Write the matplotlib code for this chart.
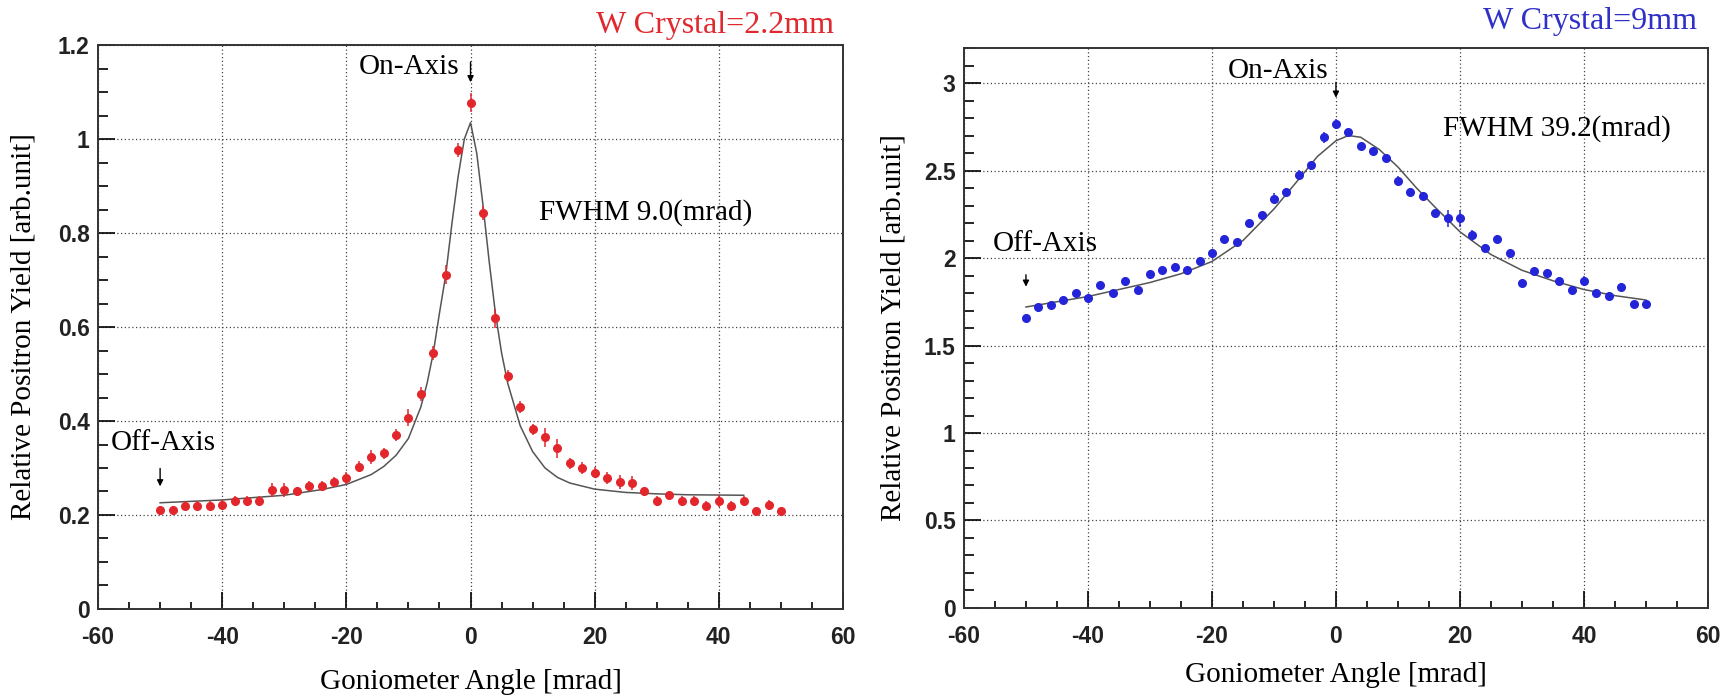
"""Relative positron yield vs goniometer angle for two W crystal thicknesses."""

import matplotlib.pyplot as plt
from matplotlib.ticker import MultipleLocator, FuncFormatter

# ---- data ----
angle = list(range(-50, 51, 2))

# 2.2 mm crystal (red points)
yield_thin = [0.210, 0.210, 0.220, 0.220, 0.220, 0.222, 0.230, 0.230, 0.230, 0.253,
              0.253, 0.250, 0.262, 0.262, 0.270, 0.279, 0.303, 0.323, 0.331, 0.370,
              0.407, 0.458, 0.545, 0.711, 0.977, 1.077, 0.843, 0.619, 0.496, 0.430,
              0.382, 0.365, 0.342, 0.310, 0.300, 0.290, 0.279, 0.270, 0.268, 0.250,
              0.230, 0.242, 0.230, 0.230, 0.220, 0.230, 0.220, 0.230, 0.208, 0.222,
              0.208]
err_thin = [0.010, 0.010, 0.010, 0.010, 0.010, 0.010, 0.010, 0.010, 0.010, 0.015,
            0.015, 0.010, 0.010, 0.010, 0.010, 0.012, 0.012, 0.015, 0.012, 0.012,
            0.018, 0.015, 0.015, 0.020, 0.015, 0.020, 0.015, 0.020, 0.012, 0.012,
            0.012, 0.020, 0.020, 0.012, 0.012, 0.012, 0.012, 0.015, 0.015, 0.010,
            0.010, 0.010, 0.010, 0.010, 0.010, 0.012, 0.010, 0.010, 0.010, 0.010,
            0.010]

# fit curve for 2.2 mm (read at selected angles)
fit_thin_x = [-50, -40, -30, -24, -20, -16, -14, -12, -10, -8, -7, -6, -5, -4, -3, -2, -1, 0,
              1, 2, 3, 4, 5, 6, 8, 10, 12, 14, 16, 20, 25, 30, 35, 44]
fit_thin_y = [0.226, 0.232, 0.242, 0.254, 0.265, 0.286, 0.303, 0.327, 0.363, 0.430, 0.480,
              0.545, 0.630, 0.710, 0.820, 0.920, 1.000, 1.035, 0.970, 0.860, 0.740, 0.630,
              0.545, 0.480, 0.390, 0.335, 0.300, 0.280, 0.268, 0.255, 0.248, 0.245, 0.243,
              0.242]

# 9 mm crystal (blue points)
yield_thick = [1.66, 1.72, 1.73, 1.76, 1.80, 1.77, 1.845, 1.80, 1.87, 1.82,
               1.91, 1.93, 1.95, 1.93, 1.985, 2.03, 2.11, 2.09, 2.20, 2.245,
               2.34, 2.38, 2.475, 2.53, 2.69, 2.765, 2.72, 2.64, 2.61, 2.57,
               2.44, 2.38, 2.355, 2.255, 2.226, 2.226, 2.13, 2.06, 2.11, 2.03,
               1.86, 1.925, 1.915, 1.87, 1.82, 1.87, 1.80, 1.785, 1.835, 1.735,
               1.735]
err_thick = [0.02, 0.02, 0.02, 0.02, 0.02, 0.02, 0.02, 0.02, 0.02, 0.02,
             0.02, 0.02, 0.02, 0.02, 0.02, 0.02, 0.02, 0.02, 0.02, 0.02,
             0.03, 0.02, 0.03, 0.02, 0.03, 0.03, 0.02, 0.02, 0.02, 0.02,
             0.03, 0.02, 0.02, 0.02, 0.05, 0.05, 0.03, 0.02, 0.02, 0.02,
             0.02, 0.02, 0.02, 0.02, 0.02, 0.03, 0.02, 0.02, 0.02, 0.02,
             0.02]

fit_thick_x = [-50, -40, -30, -25, -20, -15, -10, -6, -3, 0, 2, 4, 7, 10, 13, 16, 20, 25,
               30, 35, 40, 45, 50]
fit_thick_y = [1.72, 1.78, 1.86, 1.91, 1.98, 2.10, 2.28, 2.45, 2.58, 2.67, 2.70, 2.69,
               2.62, 2.52, 2.40, 2.29, 2.15, 2.02, 1.93, 1.87, 1.82, 1.785, 1.76]

SERIF = ["Liberation Serif", "DejaVu Serif"]
SANS = ["Liberation Sans", "DejaVu Sans"]


def style_axes(ax, ymax, ymajor, yminor):
    ax.set_xlim(-60, 60)
    ax.set_ylim(0, ymax)
    ax.xaxis.set_major_locator(MultipleLocator(20))
    ax.xaxis.set_minor_locator(MultipleLocator(5))
    ax.yaxis.set_major_locator(MultipleLocator(ymajor))
    ax.yaxis.set_minor_locator(MultipleLocator(yminor))
    ax.yaxis.set_major_formatter(FuncFormatter(lambda v, p: f"{v:g}"))
    ax.xaxis.set_major_formatter(FuncFormatter(lambda v, p: f"{v:g}"))
    ax.tick_params(which="both", direction="in", top=False, right=False, width=1.2)
    ax.tick_params(axis="x", which="major", length=12, pad=12)
    ax.tick_params(axis="x", which="minor", length=5)
    ax.tick_params(axis="y", which="major", length=12, pad=6)
    ax.tick_params(axis="y", which="minor", length=7)
    for lab in ax.get_xticklabels() + ax.get_yticklabels():
        lab.set_family(SANS)
        lab.set_fontweight("bold")
        lab.set_fontsize(16.5)
        lab.set_color("#222222")
    ax.grid(True, which="major", color="#444444", linestyle=(0, (1, 2)), linewidth=0.9)
    for sp in ax.spines.values():
        sp.set_linewidth(1.4)
        sp.set_color("#333333")


fig = plt.figure(figsize=(17.35, 6.97), dpi=100)
ax1 = fig.add_axes([0.0565, 0.1263, 0.4294, 0.809])
ax2 = fig.add_axes([0.5556, 0.1277, 0.4288, 0.8034])

# ---- left panel: 2.2 mm ----
ax1.errorbar(angle, yield_thin, yerr=err_thin, fmt="o", ms=5.5, color="#e3262b",
             elinewidth=1.1, capsize=0, zorder=3)
ax1.plot(fit_thin_x, fit_thin_y, color="#555555", lw=1.1, zorder=2)
style_axes(ax1, 1.2, 0.2, 0.05)

ax1.text(-1.8, 1.153, "On-Axis", family=SERIF, fontsize=21, ha="right", va="center")
ax1.annotate("", xy=(0, 1.115), xytext=(0, 1.17),
             arrowprops=dict(arrowstyle="-|>", color="black", lw=1, mutation_scale=9))
ax1.text(11, 0.843, "FWHM 9.0(mrad)", family=SERIF, fontsize=21, ha="left", va="center")
ax1.text(-58, 0.353, "Off-Axis", family=SERIF, fontsize=21, ha="left", va="center")
ax1.annotate("", xy=(-50, 0.255), xytext=(-50, 0.305),
             arrowprops=dict(arrowstyle="-|>", color="black", lw=1, mutation_scale=9))
ax1.text(0.988, 1.021, "W Crystal=2.2mm", transform=ax1.transAxes, family=SERIF,
         fontsize=23, color="#e0282e", ha="right", va="baseline")
ax1.set_xlabel("Goniometer Angle [mrad]", family=SERIF, fontsize=21, va="center")
ax1.xaxis.set_label_coords(0.5, -0.129)
ax1.set_ylabel("Relative Positron Yield [arb.unit]", family=SERIF, fontsize=21,
               va="center", ha="center")
ax1.yaxis.set_label_coords(-0.1, 0.5)

# ---- right panel: 9 mm ----
ax2.errorbar(angle, yield_thick, yerr=err_thick, fmt="o", ms=5.5, color="#2424d8",
             elinewidth=1.1, capsize=0, zorder=3)
ax2.plot(fit_thick_x, fit_thick_y, color="#555555", lw=1.1, zorder=2)
style_axes(ax2, 3.2, 0.5, 0.1)

ax2.text(-1.3, 3.07, "On-Axis", family=SERIF, fontsize=21, ha="right", va="center")
ax2.annotate("", xy=(0, 2.9), xytext=(0, 3.02),
             arrowprops=dict(arrowstyle="-|>", color="black", lw=1, mutation_scale=9))
ax2.text(17.3, 2.74, "FWHM 39.2(mrad)", family=SERIF, fontsize=21, ha="left", va="center")
ax2.text(-55.3, 2.08, "Off-Axis", family=SERIF, fontsize=21, ha="left", va="center")
ax2.annotate("", xy=(-50, 1.82), xytext=(-50, 1.92),
             arrowprops=dict(arrowstyle="-|>", color="black", lw=1, mutation_scale=9))
ax2.text(0.985, 1.034, "W Crystal=9mm", transform=ax2.transAxes, family=SERIF,
         fontsize=23, color="#3030c8", ha="right", va="baseline")
ax2.set_xlabel("Goniometer Angle [mrad]", family=SERIF, fontsize=21, va="center")
ax2.xaxis.set_label_coords(0.5, -0.12)
ax2.set_ylabel("Relative Positron Yield [arb.unit]", family=SERIF, fontsize=21,
               va="center", ha="center")
ax2.yaxis.set_label_coords(-0.095, 0.5)

fig.savefig("out.png", dpi=100)
